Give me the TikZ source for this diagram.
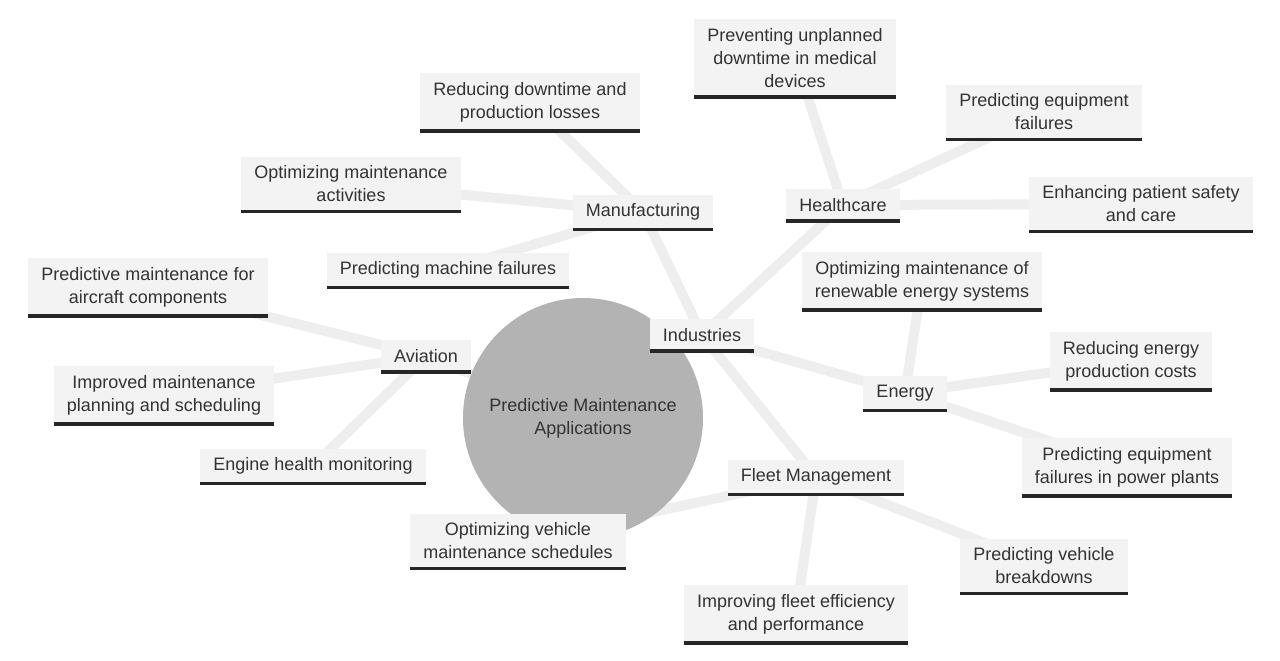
\documentclass[tikz,border=0pt]{standalone}
\usepackage{fontspec}
\setmainfont{Liberation Sans}
\usetikzlibrary{backgrounds}
\definecolor{boxfill}{HTML}{F3F3F3}
\definecolor{linkgray}{HTML}{EEEEEE}
\definecolor{hubgray}{HTML}{B3B3B3}
\definecolor{txt}{HTML}{333333}
\begin{document}
\begin{tikzpicture}[x=1pt,y=-1pt]
\tikzset{every node/.style={font=\fontsize{18}{23}\selectfont,text=txt},
  topic/.style={fill=boxfill,align=center,inner xsep=13pt,inner ysep=9pt,
    append after command={(\tikzlastnode.south west) edge[line width=3.5pt,black!85] (\tikzlastnode.south east)}},
  link/.style={line width=10pt,linkgray}}
\useasboundingbox (0,0) rectangle (1280,661);
% Hub
\node[circle,fill=hubgray,minimum size=240pt,align=center] (hub) at (583,418) {Predictive Maintenance\\Applications};

% Topics
\node[topic] (ind) at (702,335) {Industries};
\node[topic] (man) at (643,212) {Manufacturing};
\node[topic] (hea) at (843,205) {Healthcare};
\node[topic] (ene) at (905,393) {Energy};
\node[topic] (flt) at (816,477) {Fleet Management};
\node[topic] (avi) at (426,356) {Aviation};

% Leaves
\node[topic] (man1) at (530,102) {Reducing downtime and\\production losses};
\node[topic] (man2) at (351,184) {Optimizing maintenance\\activities};
\node[topic] (man3) at (448,270) {Predicting machine failures};
\node[topic] (hea1) at (795,58) {Preventing unplanned\\downtime in medical\\devices};
\node[topic] (hea2) at (1044,112) {Predicting equipment\\failures};
\node[topic] (hea3) at (1141,204) {Enhancing patient safety\\and care};
\node[topic] (ene1) at (922,281) {Optimizing maintenance of\\renewable energy systems};
\node[topic] (ene2) at (1131,361) {Reducing energy\\production costs};
\node[topic] (ene3) at (1127,467) {Predicting equipment\\failures in power plants};
\node[topic] (flt1) at (1044,566) {Predicting vehicle\\breakdowns};
\node[topic] (flt2) at (796,614) {Improving fleet efficiency\\and performance};
\node[topic] (flt3) at (518,541) {Optimizing vehicle\\maintenance schedules};
\node[topic] (avi1) at (148,287) {Predictive maintenance for\\aircraft components};
\node[topic] (avi2) at (164,395) {Improved maintenance\\planning and scheduling};
\node[topic] (avi3) at (313,466) {Engine health monitoring};

% Links
\begin{pgfonlayer}{background}
\draw[link] (hub.center) -- (ind.center);
\draw[link] (hub.center) -- (avi.center);
\foreach \a/\b in {ind/man,ind/hea,ind/ene,ind/flt,man/man1,man/man2,man/man3,
  hea/hea1,hea/hea2,hea/hea3,ene/ene1,ene/ene2,ene/ene3,flt/flt1,flt/flt2,flt/flt3,
  avi/avi1,avi/avi2,avi/avi3}
  \draw[link] (\a.center) -- (\b.center);
\end{pgfonlayer}
\end{tikzpicture}
\end{document}
